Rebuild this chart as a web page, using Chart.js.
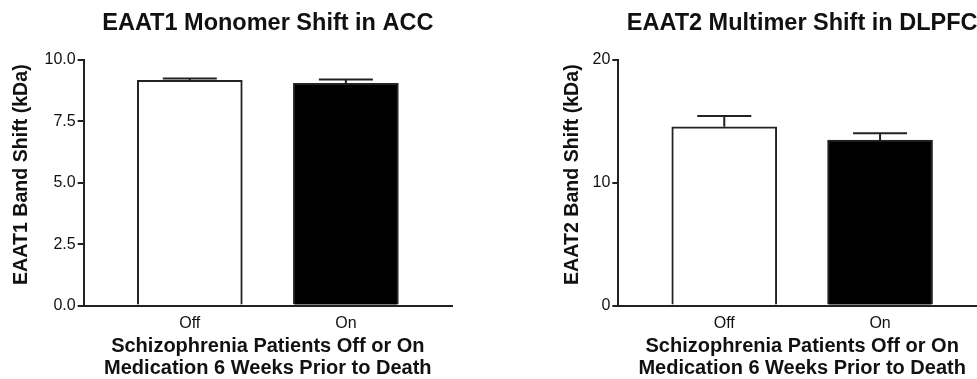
<!DOCTYPE html>
<html>
<head>
<meta charset="utf-8">
<script src="https://cdn.jsdelivr.net/npm/chart.js@4"></script>
<style>
  html, body { margin: 0; padding: 0; background: #fff; overflow: hidden; }
  .panel { position: absolute; top: 0; }
</style>
</head>
<body>
<div class="panel" style="left:0"><canvas id="acc" width="490" height="379"></canvas></div>
<div class="panel" style="left:490px"><canvas id="dlpfc" width="500" height="379"></canvas></div>
<script>
// groups on the x axis
var groups = ['Off', 'On'];

// EAAT1 monomer shift in ACC (kDa), mean and upper SEM
var eaat1Mean = [9.17, 9.05];
var eaat1Sem = [0.08, 0.16];

// EAAT2 multimer shift in DLPFC (kDa)
var eaat2Mean = [14.56, 13.47];
var eaat2Sem = [0.87, 0.57];

var xTitle = ['Schizophrenia Patients Off or On', 'Medication 6 Weeks Prior to Death'];

var FONT = '"Liberation Sans", Arial, Helvetica, sans-serif';
Chart.defaults.font.family = FONT;
Chart.defaults.color = '#111';

// title centred over the plot area, like the Prism export
var plotTitle = {
    id: 'plotTitle',
    afterDraw: function(chart, args, opts) {
        var ctx = chart.ctx, area = chart.chartArea;
        ctx.save();
        ctx.font = 'bold 23.5px ' + FONT;
        ctx.fillStyle = '#111';
        ctx.textAlign = 'center';
        ctx.textBaseline = 'middle';
        ctx.fillText(opts.text, (area.left + area.right) / 2, 24);
        ctx.restore();
    }
};

// one-sided (upper) SEM whiskers
var errorBars = {
    id: 'errorBars',
    afterDatasetsDraw: function(chart, args, opts) {
        var ctx = chart.ctx, x = chart.scales.x, y = chart.scales.y;
        ctx.save();
        ctx.strokeStyle = '#222';
        ctx.lineWidth = 2;
        opts.means.forEach(function(m, i) {
            var px = x.getPixelForValue(i);
            var top = y.getPixelForValue(m);
            var hi = y.getPixelForValue(m + opts.sem[i]);
            ctx.beginPath();
            ctx.moveTo(px, top);
            ctx.lineTo(px, hi);
            ctx.moveTo(px - 27, hi);
            ctx.lineTo(px + 27, hi);
            ctx.stroke();
        });
        ctx.restore();
    }
};

function makeChart(id, title, yLabel, means, sem, yMax, yStep, decimals, pad, yTitlePad) {
    return new Chart(document.getElementById(id), {
        type: 'bar',
        data: {
            datasets: [{
                data: means.map(function(v, i) { return {x: i, y: v}; }),
                backgroundColor: ['#ffffff', '#000000'],
                borderColor: '#222',
                borderWidth: 2,
                barThickness: 105
            }]
        },
        options: {
            responsive: false,
            animation: false,
            layout: { padding: pad },
            plugins: {
                legend: { display: false },
                tooltip: { enabled: false },
                plotTitle: { text: title },
                errorBars: { means: means, sem: sem }
            },
            scales: {
                x: {
                    type: 'linear',
                    offset: false,
                    min: -0.68,
                    max: 1.68,
                    afterBuildTicks: function(axis) {
                        axis.ticks = groups.map(function(g, i) { return {value: i}; });
                    },
                    ticks: {
                        callback: function(v) { return groups[v]; },
                        font: { size: 16 },
                        padding: 8.5,
                        maxRotation: 0
                    },
                    grid: { display: false, drawTicks: false, offset: false },
                    border: { display: true, color: '#222', width: 2 },
                    title: {
                        display: true,
                        text: xTitle,
                        color: '#111',
                        font: { size: 20, weight: 'bold', lineHeight: 1.08 },
                        padding: { top: -6, bottom: 0 }
                    }
                },
                y: {
                    min: 0,
                    max: yMax,
                    ticks: {
                        stepSize: yStep,
                        font: { size: 16 },
                        padding: 2,
                        callback: function(v) { return v.toFixed(decimals); }
                    },
                    grid: { drawOnChartArea: false, tickLength: 6, color: '#222', lineWidth: 2 },
                    border: { color: '#222', width: 2 },
                    title: {
                        display: true,
                        text: yLabel,
                        color: '#111',
                        font: { size: 19.6, weight: 'bold', lineHeight: 1.2 },
                        padding: yTitlePad
                    }
                }
            }
        },
        plugins: [plotTitle, errorBars]
    });
}

makeChart('acc', 'EAAT1 Monomer Shift in ACC', '   EAAT1 Band Shift (kDa)',
    eaat1Mean, eaat1Sem, 10, 2.5, 1, {top: 60, right: 38, bottom: 0, left: 0}, {top: 10, bottom: 9});
makeChart('dlpfc', 'EAAT2 Multimer Shift in DLPFC', '   EAAT2 Band Shift (kDa)',
    eaat2Mean, eaat2Sem, 20, 10, 0, {top: 60, right: 4, bottom: 0, left: 61}, {top: 10, bottom: 6});
</script>
</body>
</html>
